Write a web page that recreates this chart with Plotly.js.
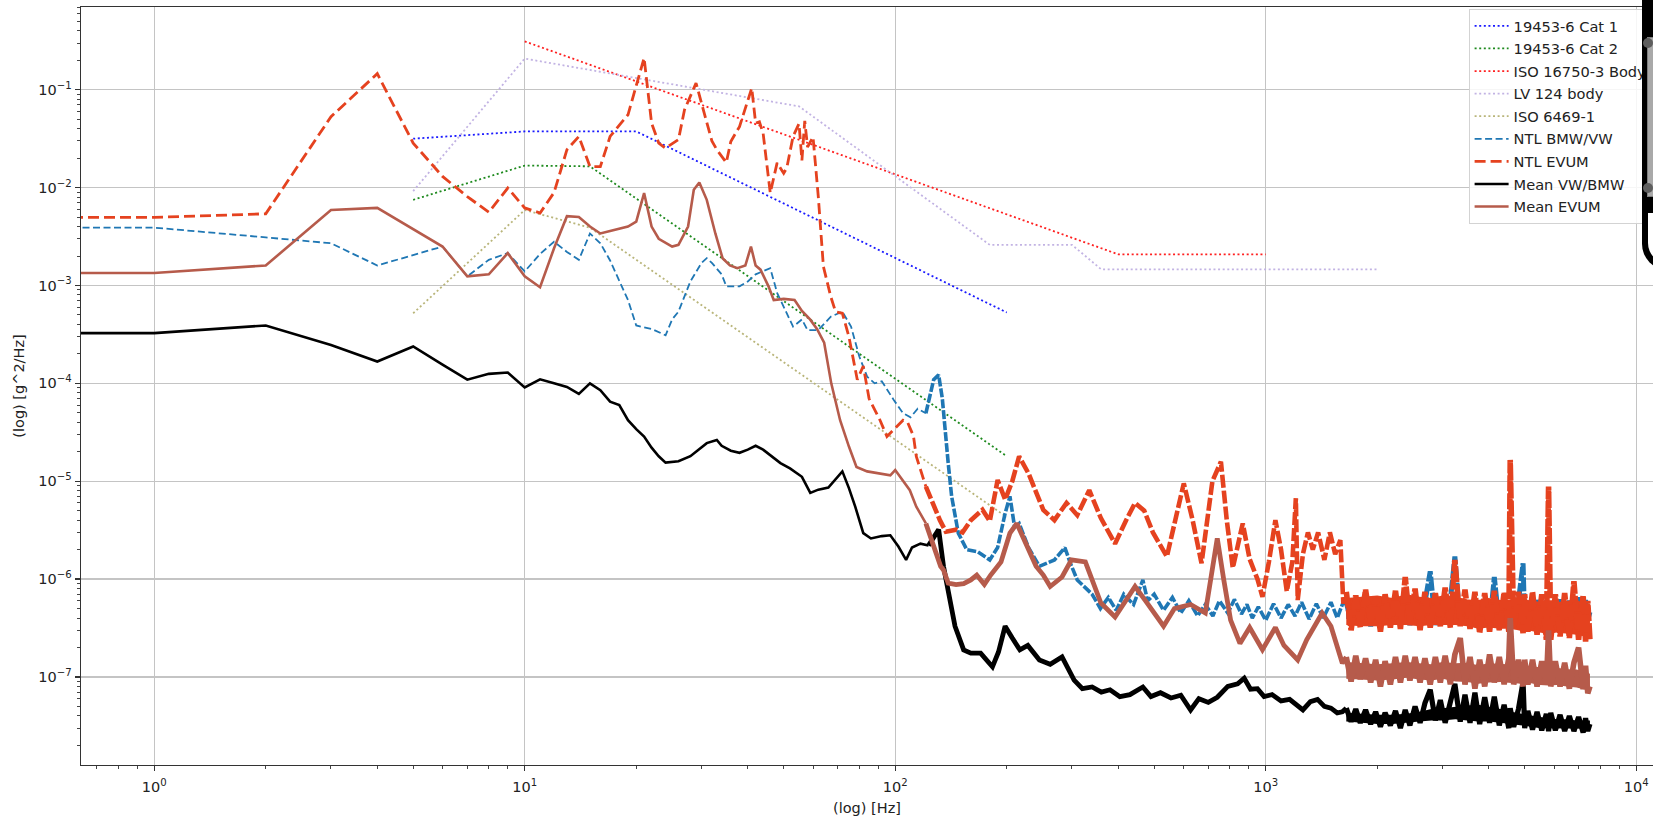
<!DOCTYPE html>
<html>
<head>
<meta charset="utf-8">
<script src="https://cdn.plot.ly/plotly-3.0.1.min.js"></script>
<style>
  html, body { margin:0; padding:0; background:#fff; overflow:hidden; }
  #chart { position:absolute; left:0; top:0; width:1653px; height:818px; }
  #ov { position:absolute; left:1641.7px; top:0; width:40px; height:270px; background:#000; border-bottom-left-radius:26px; overflow:hidden; }
  #ovIn { position:absolute; left:6.6px; top:213px; width:40px; height:50px; background:#fff; border-bottom-left-radius:20px; }
  #ovGrey { position:absolute; left:5.6px; top:36.7px; width:40px; height:158px; background:#a9a9a9; border:1.5px solid #7e7e7e; }
  .ovDot { position:absolute; width:10px; height:10px; border-radius:5px; background:#5e5e5e; }
</style>
</head>
<body>
<div id="chart"></div>
<div id="ov"><div id="ovIn"></div><div id="ovGrey"></div><div class="ovDot" style="left:1.6px;top:38.3px"></div><div class="ovDot" style="left:1.6px;top:183.3px"></div></div>
<script>
// ---------- Standards (dotted) ----------
const cat1F = [5, 10, 20, 200];
const cat1V = [0.0316, 0.0375, 0.0375, 0.00053];
const cat2F = [5, 10, 15, 200];
const cat2V = [0.0075, 0.0168, 0.0165, 1.8e-5];
const isoBodyF = [10, 400, 1000];
const isoBodyV = [0.312, 0.00208, 0.00208];
const lv124F = [5, 10, 55, 180, 300, 360, 1000, 2000];
const lv124V = [0.0092, 0.208, 0.0676, 0.0026, 0.0026, 0.00146, 0.00146, 0.00146];
const iso6469F = [5, 10, 15, 200];
const iso6469V = [5.2e-4, 0.0059, 0.0039, 4.3e-6];

// ---------- Measured: low / mid frequency ----------
const ntlEvumF = [0.6,1,2,3,4,5,6,7,8,9, 10,11,12,13,14,15,16,17,19,21, 22,23,24,26,27,29,30,32,33,35,
  36,38,41,42,43,44,46,48,50,51, 53,55,56,57,58,60,62,64,67,69, 72,75,79,82,85,91,95,100,105,108,
  112,114,121,127,132,137,146,152,160,172, 180,189,198,207,216,229,240,251,269,290,
  310,334,359,392,420,444,470,496,541,565, 601,635,671,718,757,785,815,867,905,950,
  980,1020,1062,1100,1140,1180,1206,1220,1260,1300, 1340,1385,1440,1490,1540,1590,1620];
const ntlEvumV = [0.00496,0.00496,0.0054,0.053,0.146,0.0285,0.013,0.0081,0.0056,0.0099,
  0.0062,0.0055,0.0089,0.0244,0.0333,0.0164,0.0164,0.0333,0.0555,0.211,
  0.0456,0.0285,0.0253,0.031,0.0625,0.117,0.073,0.030,0.0244,0.018,
  0.0296,0.042,0.104,0.0456,0.047,0.036,0.0088,0.0179,0.014,0.016,
  0.0333,0.045,0.019,0.048,0.026,0.033,0.0081,0.00156,0.00077,0.00054,
  0.00052,0.0003,1.09e-4,1.5e-4,7e-5,4.2e-5,2.86e-5,3.5e-5,4.2e-5,4.0e-5,
  2.9e-5,1.79e-5,8.8e-6,5.5e-6,4.0e-6,3.05e-6,3.2e-6,3.0e-6,4.0e-6,5.1e-6,
  3.9e-6,1.03e-5,6.5e-6,1.0e-5,1.79e-5,1.2e-5,8e-6,5.1e-6,4e-6,6.0e-6,
  4.5e-6,8.1e-6,4.2e-6,2.3e-6,4e-6,6.0e-6,5e-6,3.0e-6,1.7e-6,3.5e-6,
  9.5e-6,4e-6,1.45e-6,1.0e-5,1.58e-5,4e-6,1.3e-6,3.7e-6,1.6e-6,1.0e-6,
  6.6e-7,1.5e-6,4.0e-6,2e-6,7.5e-7,1.5e-6,6.7e-6,6.1e-7,1.8e-6,3.0e-6,
  2.0e-6,3.0e-6,1.57e-6,3e-6,1.8e-6,2.5e-6,5.6e-7];

const ntlBmwF = [0.6,1,2,3,4,5,6,7,8,9, 10,11,12,13,14,15,16,17,18,19, 20,22,24,25,26,28,30,31,32,34,
  35,38,40,42,44,46,48,50,53,56, 58,62,65,67,72,76,80,84,88,92, 99,105,110,115,121,127,131,134,139,142,
  148,156,167,180,189,198,204,210,216,229, 245,269,287,297,310,
  340,358,376,395,414,440,466,480,500,530, 560,590,620,655,687,720,750,790,823,860,
  890,920,955,1000,1050,1100,1150,1200,1250,1310, 1370,1430,1500,1560,1610];
const ntlBmwV = [0.0039,0.0039,0.0031,0.0027,0.0016,0.00206,0.0025,0.00124,0.00183,0.00214,
  0.00139,0.0021,0.0028,0.0022,0.00183,0.0034,0.0027,0.0018,0.0011,7.1e-4,
  3.9e-4,3.6e-4,3.1e-4,4.5e-4,5.4e-4,0.0011,0.0017,0.0019,0.0017,0.0013,
  9.8e-4,9.8e-4,0.0011,0.0013,0.0014,0.0015,8.4e-4,6e-4,3.8e-4,4.5e-4,
  3.5e-4,3.5e-4,4.2e-4,4.8e-4,5.4e-4,3.8e-4,1.88e-4,1.17e-4,1.0e-4,1.05e-4,
  6.8e-5,4.95e-5,4.5e-5,5.5e-5,4.95e-5,1.09e-4,1.22e-4,7e-5,1.53e-5,7e-6,
  2.95e-6,2.0e-6,1.9e-6,1.57e-6,2.1e-6,4.7e-6,7e-6,3.4e-6,3.7e-6,2.1e-6,
  1.35e-6,1.57e-6,2.1e-6,1.45e-6,9.8e-7,
  7e-7,5e-7,6.5e-7,4.8e-7,7e-7,5.5e-7,9.8e-7,6e-7,7e-7,4.8e-7,
  6.5e-7,4.5e-7,6e-7,4.2e-7,5.5e-7,4.2e-7,6e-7,4.5e-7,6.2e-7,4.4e-7,
  5.5e-7,4.0e-7,5.2e-7,3.8e-7,5.6e-7,4.0e-7,5.5e-7,4.2e-7,5.8e-7,3.9e-7,
  5.6e-7,4.0e-7,5.8e-7,4.0e-7,5.5e-7];

const meanVwF = [0.6,1,2,3,4,5,6,7,8,9, 10,11,12,13,14,15,16,17,18,19, 20,21,22,23,24,26,28,30,31,33,
  34,36,38,40,42,44,46,49,52,56, 59,62,66,70,72,75,78,82,86,92, 97,102,107,111,117,123,129,131,135,139,
  145,153,160,170,183,190,198,207,217,228, 245,262,282,304,320,340,360,380,404,430,
  466,490,520,555,590,627,660,700,740,790, 840,875,910,950,990,1040,1100,1160,1220,1260,
  1320,1380,1440,1500,1560,1610];
const meanVwV = [3.26e-4,3.26e-4,3.9e-4,2.47e-4,1.67e-4,2.38e-4,1.55e-4,1.09e-4,1.25e-4,1.29e-4,
  9.1e-5,1.1e-4,1.0e-4,9.2e-5,7.8e-5,1.0e-4,8.5e-5,6.5e-5,6.0e-5,4.2e-5,
  3.4e-5,2.86e-5,2.2e-5,1.8e-5,1.55e-5,1.6e-5,1.8e-5,2.2e-5,2.45e-5,2.64e-5,
  2.3e-5,2.05e-5,1.95e-5,2.1e-5,2.3e-5,2.1e-5,1.85e-5,1.53e-5,1.35e-5,1.11e-5,
  7.6e-6,8.2e-6,8.6e-6,1.11e-5,1.26e-5,8.5e-6,5.5e-6,2.95e-6,2.6e-6,2.75e-6,
  2.8e-6,2.15e-6,1.57e-6,2.1e-6,2.3e-6,2.2e-6,2.95e-6,3.2e-6,1.35e-6,7.8e-7,
  3.3e-7,1.89e-7,1.75e-7,1.75e-7,1.27e-7,1.8e-7,3.3e-7,2.5e-7,1.89e-7,2.1e-7,
  1.49e-7,1.35e-7,1.6e-7,9.3e-8,7.6e-8,7.9e-8,7.0e-8,7.4e-8,6.3e-8,6.6e-8,
  7.9e-8,6.3e-8,6.9e-8,6.1e-8,6.5e-8,4.6e-8,6.0e-8,5.5e-8,6.2e-8,8.0e-8,
  8.5e-8,9.7e-8,7.5e-8,7.6e-8,6.3e-8,6.6e-8,5.7e-8,5.9e-8,5.0e-8,4.6e-8,
  5.6e-8,5.9e-8,5.0e-8,4.8e-8,4.3e-8,4.4e-8];

const meanEvumF = [0.6,1,2,3,4,5,6,7,8,9, 10,11,12,13,14,15,16,17,18,19, 20,21,22,23,25,26,27.6,28.6,29.6,31,
  32.7,34.2,35.8,37.5,39.4,40.8,42,43.3,45.5,47, 50,53.5,56,58.9,61.5,64.3,67.2,71,75,78.6,
  84,90,97,100,104,109.5,114,121,127,132.6, 135,139,146,153,160,166,174,181,193,204,
  213,222,229,240,251,262,282,299,326,342, 359,392,420,444,474,530,567,627,687,715,
  740,770,804,852,905,980,1062,1120,1220,1290, 1420,1500,1610];
const meanEvumV = [0.00134,0.00134,0.0016,0.0059,0.0062,0.0038,0.0025,0.00124,0.0013,0.00214,
  0.00124,9.6e-4,0.0024,0.0051,0.005,0.004,0.0034,0.0036,0.0038,0.004,
  0.0045,0.0088,0.004,0.003,0.0025,0.0026,0.004,0.0095,0.0113,0.0075,
  0.0034,0.0019,0.0016,0.0015,0.0016,0.0025,0.0016,0.00145,9.8e-4,7.1e-4,
  7.3e-4,7.1e-4,5.5e-4,4.5e-4,3.6e-4,2.6e-4,1.0e-4,4.2e-5,2.26e-5,1.4e-5,
  1.26e-5,1.2e-5,1.15e-5,1.3e-5,1.05e-5,8.1e-6,5.5e-6,3.7e-6,2.1e-6,1.35e-6,
  1.24e-6,9.1e-7,8.8e-7,9.0e-7,9.8e-7,1.1e-6,8.8e-7,1.1e-6,1.5e-6,2.95e-6,
  3.7e-6,2.6e-6,2.1e-6,1.35e-6,1.1e-6,8.4e-7,1.05e-6,1.57e-6,1.5e-6,9e-7,
  5.7e-7,4.1e-7,6e-7,8.4e-7,6e-7,3.3e-7,5e-7,5.5e-7,4.5e-7,1.2e-6,
  2.6e-6,1.0e-6,3.8e-7,2.2e-7,3.2e-7,1.9e-7,3.2e-7,2.1e-7,1.49e-7,2.4e-7,
  4.5e-7,3.3e-7,1.38e-7];

// ---------- Measured: high frequency (shared frequency grid, zig-zag of the noise) ----------
const hfF = [1650,1700,1750,1800,1860,1920,1980,2040,2100,2170, 2240,2310,2380,2450,2530,2610,2690,2780,2870,2960,
  3050,3150,3240,3350,3450,3560,3670,3780,3900,4020, 4140,4270,4400,4530,4570,4670,4810,4950,5000,5100,
  5250,5400,5560,5720,5800,5880,6050,6230,6410,6600, 6790,6990,7190,7300,7400,7500];
const hfNtlEvum = [7.4e-7,3.0e-7,6.8e-7,3.2e-7,7.8e-7,3.5e-7,6.6e-7,2.9e-7,7.0e-7,3.2e-7,
  7.6e-7,3.1e-7,1.05e-6,3.4e-7,8.0e-7,3.0e-7,7.4e-7,3.2e-7,7.2e-7,3.3e-7,
  8.2e-7,3.2e-7,1.57e-6,3.3e-7,7.8e-7,3.1e-7,7.4e-7,2.8e-7,7.2e-7,2.9e-7,
  7.6e-7,3.0e-7,7.3e-7,2.9e-7,1.65e-5,3.1e-7,7.4e-7,2.8e-7,7.0e-7,2.9e-7,
  7.4e-7,2.7e-7,7.0e-7,2.4e-7,8.8e-6,2.4e-7,7.0e-7,2.6e-7,7.2e-7,2.5e-7,
  9.5e-7,2.4e-7,6.8e-7,2.3e-7,6.0e-7,2.4e-7];
const hfNtlBmw = [5.8e-7,3.6e-7,6.0e-7,3.5e-7,5.8e-7,3.3e-7,5.4e-7,3.2e-7,5.9e-7,3.4e-7,
  6.0e-7,3.5e-7,6.2e-7,3.4e-7,6.0e-7,3.4e-7,5.8e-7,1.2e-6,3.4e-7,6.1e-7,
  3.5e-7,6.0e-7,1.7e-6,3.4e-7,6.0e-7,3.3e-7,5.7e-7,3.1e-7,5.9e-7,3.3e-7,
  1.05e-6,3.4e-7,6.0e-7,3.5e-7,5.9e-7,3.4e-7,6.0e-7,1.45e-6,3.6e-7,6.0e-7,
  3.4e-7,6.1e-7,3.5e-7,6.0e-7,3.4e-7,5.9e-7,3.5e-7,6.2e-7,3.6e-7,6.0e-7,
  3.5e-7,6.5e-7,3.7e-7,6.1e-7,3.8e-7,4.6e-7];
const hfMeanVw = [4.8e-8,3.5e-8,4.7e-8,3.4e-8,4.6e-8,3.3e-8,4.4e-8,3.1e-8,4.3e-8,3.2e-8,
  4.5e-8,3.0e-8,4.6e-8,3.2e-8,5.0e-8,3.4e-8,5.4e-8,7.4e-8,3.6e-8,5.8e-8,
  3.4e-8,5.7e-8,8.5e-8,3.5e-8,6.6e-8,3.4e-8,6.9e-8,3.3e-8,6.2e-8,3.4e-8,
  6.3e-8,3.2e-8,5.2e-8,3.0e-8,4.8e-8,3.1e-8,4.7e-8,8.9e-8,3.0e-8,4.5e-8,
  2.9e-8,4.4e-8,2.85e-8,4.2e-8,2.8e-8,4.3e-8,2.85e-8,4.1e-8,2.8e-8,4.0e-8,
  2.8e-8,3.9e-8,2.7e-8,3.8e-8,2.8e-8,3.3e-8];
const hfMeanEvum = [1.6e-7,9.0e-8,1.65e-7,9.5e-8,1.55e-7,8.8e-8,1.5e-7,8.0e-8,1.45e-7,8.4e-8,
  1.6e-7,8.8e-8,1.65e-7,9.2e-8,1.6e-7,8.8e-8,1.55e-7,8.4e-8,1.6e-7,8.8e-8,
  1.65e-7,8.4e-8,1.7e-7,2.5e-7,8.4e-8,1.6e-7,7.6e-8,1.5e-7,8.0e-8,1.7e-7,
  8.8e-8,1.6e-7,8.4e-8,1.55e-7,4.0e-7,8.4e-8,1.5e-7,8.0e-8,1.5e-7,8.4e-8,
  1.5e-7,8.0e-8,1.45e-7,8.4e-8,3.0e-7,8.0e-8,1.45e-7,8.0e-8,1.4e-7,7.6e-8,
  1.4e-7,2.0e-7,7.5e-8,1.3e-7,6.8e-8,8.0e-8];

// ---------- High-frequency noise: dense core of each band (upper / lower edge) ----------
const envF = [1650,1800,2000,2200,2400,2600,2800,3000,3250,3500,3750,4000,4300,4600,4900,5200,5500,5800,6100,6500,6900,7200,7500];
const envNtlEvumHi = [6.4e-7,6.6e-7,6.8e-7,6.4e-7,7.0e-7,6.6e-7,6.4e-7,6.8e-7,6.6e-7,6.2e-7,6.1e-7,6.4e-7,6.1e-7,6.2e-7,6.0e-7,6.1e-7,5.8e-7,6.0e-7,5.8e-7,6.0e-7,6.2e-7,5.6e-7,5.4e-7];
const envNtlEvumLo = [3.4e-7,3.3e-7,3.3e-7,3.4e-7,3.4e-7,3.3e-7,3.4e-7,3.4e-7,3.4e-7,3.3e-7,3.1e-7,3.2e-7,3.1e-7,3.1e-7,2.95e-7,2.95e-7,2.85e-7,2.75e-7,2.85e-7,2.75e-7,2.7e-7,2.6e-7,2.7e-7];
const envNtlBmwHi = [5.5e-7,5.3e-7,5.2e-7,5.4e-7,5.5e-7,5.3e-7,5.3e-7,5.4e-7,5.3e-7,5.3e-7,5.1e-7,5.3e-7,5.4e-7,5.3e-7,5.3e-7,5.4e-7,5.4e-7,5.3e-7,5.5e-7,5.5e-7,5.7e-7,5.5e-7,5.3e-7];
const envNtlBmwLo = [3.9e-7,3.8e-7,3.7e-7,3.8e-7,3.8e-7,3.9e-7,3.8e-7,3.9e-7,3.8e-7,3.7e-7,3.6e-7,3.7e-7,3.8e-7,3.9e-7,3.9e-7,3.9e-7,3.9e-7,3.9e-7,4.0e-7,4.0e-7,4.1e-7,4.1e-7,4.1e-7];
const envMeanVwHi = [4.3e-8,4.2e-8,4.1e-8,4.1e-8,4.2e-8,4.4e-8,4.7e-8,4.8e-8,5.0e-8,5.1e-8,5.2e-8,5.0e-8,4.7e-8,4.4e-8,4.2e-8,4.0e-8,3.9e-8,3.8e-8,3.7e-8,3.7e-8,3.6e-8,3.6e-8,3.6e-8];
const envMeanVwLo = [3.5e-8,3.4e-8,3.3e-8,3.3e-8,3.4e-8,3.5e-8,3.6e-8,3.6e-8,3.7e-8,3.6e-8,3.5e-8,3.5e-8,3.4e-8,3.3e-8,3.2e-8,3.1e-8,3.0e-8,3.0e-8,2.95e-8,2.95e-8,2.95e-8,2.95e-8,2.95e-8];
const envMeanEvumHi = [1.42e-7,1.38e-7,1.35e-7,1.38e-7,1.42e-7,1.38e-7,1.35e-7,1.42e-7,1.38e-7,1.4e-7,1.32e-7,1.38e-7,1.35e-7,1.34e-7,1.29e-7,1.3e-7,1.25e-7,1.27e-7,1.24e-7,1.2e-7,1.19e-7,1.15e-7,1.08e-7];
const envMeanEvumLo = [9.6e-8,9.4e-8,9.2e-8,9.4e-8,9.8e-8,9.4e-8,9.2e-8,9.6e-8,9.0e-8,8.9e-8,8.5e-8,8.8e-8,8.9e-8,8.7e-8,8.5e-8,8.6e-8,8.3e-8,8.2e-8,8.3e-8,8.0e-8,7.8e-8,7.5e-8,7.3e-8];

const legendNames = ['19453-6 Cat 1','19453-6 Cat 2','ISO 16750-3 Body','LV 124 body','ISO 6469-1',
  'NTL BMW/VW','NTL EVUM','Mean VW/BMW','Mean EVUM'];
const xTickVals = [1, 10, 100, 1000, 10000];
const xTickText = ['10<sup>0</sup>','10<sup>1</sup>','10<sup>2</sup>','10<sup>3</sup>','10<sup>4</sup>'];
const yTickVals = [1e-7, 1e-6, 1e-5, 1e-4, 1e-3, 1e-2, 1e-1];
const yTickText = ['10<sup>\u22127</sup>','10<sup>\u22126</sup>','10<sup>\u22125</sup>','10<sup>\u22124</sup>',
  '10<sup>\u22123</sup>','10<sup>\u22122</sup>','10<sup>\u22121</sup>'];

function check(a, b, n) { if (a.length !== b.length) throw new Error('length mismatch ' + n + ' ' + a.length + ' ' + b.length); }
check(ntlEvumF, ntlEvumV, 'evum'); check(ntlBmwF, ntlBmwV, 'bmw'); check(meanVwF, meanVwV, 'meanvw');
check(meanEvumF, meanEvumV, 'meanevum'); check(hfF, hfNtlEvum, 'hf1'); check(hfF, hfNtlBmw, 'hf2');
check(hfF, hfMeanVw, 'hf3'); check(hfF, hfMeanEvum, 'hf4');
[envNtlEvumHi, envNtlEvumLo, envNtlBmwHi, envNtlBmwLo, envMeanVwHi, envMeanVwLo, envMeanEvumHi, envMeanEvumLo]
  .forEach((a, i) => check(envF, a, 'env' + i));

const FONT = 'DejaVu Sans, Verdana, sans-serif';
const SPLIT = 120;   // above this frequency the noisy spectra are drawn with a heavier stroke
const SPLIT2 = 1640; // above this frequency the noise forms a dense band

function dotted(x, y, name, color) {
  return {x: x, y: y, name: name, legendgroup: name, type: 'scatter', mode: 'lines',
    line: {color: color, width: 1.8, dash: '2px,2.6px'}};
}
function band(hi, lo, color, group) {
  return {x: envF.concat(envF.slice().reverse()), y: hi.concat(lo.slice().reverse()),
    type: 'scatter', mode: 'lines', fill: 'toself', fillcolor: color, line: {width: 0, color: color},
    showlegend: false, legendgroup: group};
}
function measured(F, V, hfV, name, color, w, dash) {
  const x = F.concat(hfF), y = V.concat(hfV);
  const seg = [[[], []], [[], []], [[], []]];
  x.forEach((f, i) => {
    const k = f <= SPLIT ? 0 : (f < SPLIT2 ? 1 : 2);
    seg[k][0].push(f); seg[k][1].push(y[i]);
  });
  // join consecutive segments
  for (let k = 0; k < 2; k++) { seg[k][0].push(seg[k + 1][0][0]); seg[k][1].push(seg[k + 1][1][0]); }
  return seg.map((s, k) => ({
    x: s[0], y: s[1], name: name, legendgroup: name, type: 'scatter', mode: 'lines',
    showlegend: k === 0, line: {color: color, width: w[k], dash: dash[k]}
  }));
}

const traces = [
  dotted(cat1F, cat1V, legendNames[0], '#1a1aff'),
  dotted(cat2F, cat2V, legendNames[1], '#1e8a1e'),
  dotted(isoBodyF, isoBodyV, legendNames[2], '#ff2020'),
  dotted(lv124F, lv124V, legendNames[3], '#c2b3e3'),
  dotted(iso6469F, iso6469V, legendNames[4], '#b9b57a'),
  band(envNtlBmwHi, envNtlBmwLo, '#1f77b4', legendNames[5]),
  ...measured(ntlBmwF, ntlBmwV, hfNtlBmw, legendNames[5], '#1f77b4', [1.8, 3.6, 5.0], ['7px,3.5px', '9px,2px', '14px,2px']),
  band(envNtlEvumHi, envNtlEvumLo, '#e5421f', legendNames[6]),
  ...measured(ntlEvumF, ntlEvumV, hfNtlEvum, legendNames[6], '#e5421f', [2.8, 4.6, 5.6], ['11px,5px', '13px,3px', '16px,2px']),
  band(envMeanVwHi, envMeanVwLo, '#000000', legendNames[7]),
  ...measured(meanVwF, meanVwV, hfMeanVw, legendNames[7], '#000000', [2.6, 4.8, 5.2], ['solid', 'solid', 'solid']),
  band(envMeanEvumHi, envMeanEvumLo, '#b65b4b', legendNames[8]),
  ...measured(meanEvumF, meanEvumV, hfMeanEvum, legendNames[8], '#b65b4b', [2.6, 4.8, 5.6], ['solid', 'solid', 'solid'])
];

const axisCommon = {
  type: 'log', showgrid: true, gridcolor: '#c4c4c4', gridwidth: 1.2, zeroline: false,
  showline: true, linecolor: '#333333', linewidth: 1.4,
  ticks: 'outside', ticklen: 5, tickwidth: 1.2, tickcolor: '#333333',
  tickmode: 'array', tickfont: {family: FONT, size: 14.5, color: '#222222'},
  minor: {dtick: 'D1', ticks: 'outside', ticklen: 3, tickwidth: 1, tickcolor: '#444444', showgrid: false}
};

const layout = {
  width: 1653, height: 818,
  margin: {l: 81, r: 0, t: 7, b: 53, autoexpand: false},
  paper_bgcolor: '#ffffff', plot_bgcolor: '#ffffff',
  font: {family: FONT, size: 14.5, color: '#222222'},
  showlegend: true,
  xaxis: Object.assign({}, axisCommon, {
    range: [-0.1976, 4.0453], tickvals: xTickVals, ticktext: xTickText, mirror: true,
    ticklabelstandoff: 3,
    title: {text: '(log) [Hz]', font: {family: FONT, size: 14.5, color: '#222222'}, standoff: 9}
  }),
  yaxis: Object.assign({}, axisCommon, {
    range: [-7.8995, -0.1547], tickvals: yTickVals, ticktext: yTickText, mirror: false,
    title: {text: '(log) [g^2/Hz]', font: {family: FONT, size: 14.5, color: '#222222'}, standoff: 10}
  }),
  legend: {
    x: 0.8827, y: 0.9975, xanchor: 'left', yanchor: 'top',
    bgcolor: 'rgba(255,255,255,0.85)', bordercolor: '#d3d3d3', borderwidth: 1,
    font: {family: FONT, size: 14.6, color: '#222222'}, tracegroupgap: 0.6, itemwidth: 34
  }
};

Plotly.newPlot('chart', traces, layout, {displayModeBar: false, staticPlot: true});
</script>
</body>
</html>
